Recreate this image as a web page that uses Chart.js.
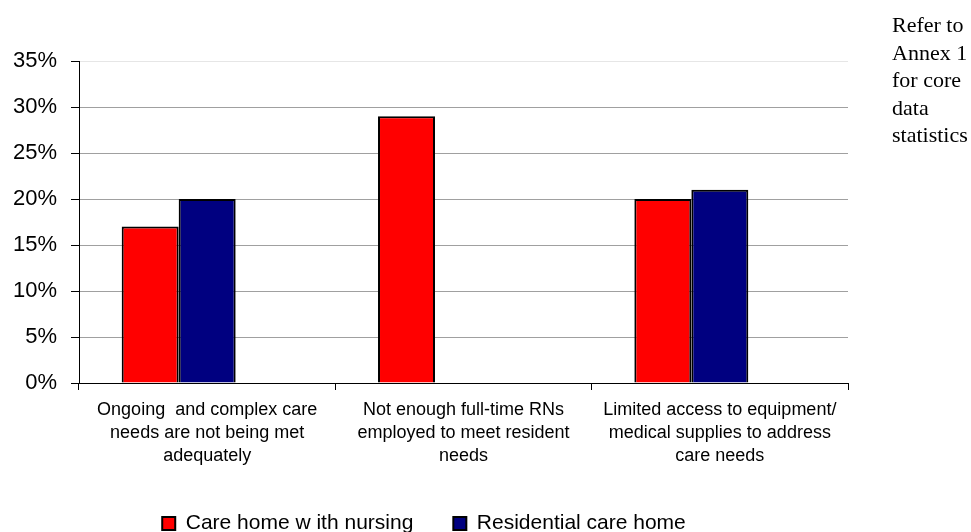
<!DOCTYPE html>
<html>
<head>
<meta charset="utf-8">
<script src="https://cdn.jsdelivr.net/npm/chart.js@4"></script>
<style>
  html, body { margin: 0; padding: 0; background: #fff; overflow: hidden; }
  #wrap { position: relative; width: 971px; height: 532px; overflow: hidden; }
  #chartBox { position: absolute; left: 0; top: 0; width: 971px; height: 544px; }
  #note {
    position: absolute; left: 892px; top: 11px;
    font-family: "Liberation Serif", "Times New Roman", serif;
    font-size: 22px; line-height: 27.5px; color: #000;
  }
</style>
</head>
<body>
<div id="wrap">
  <div id="chartBox"><canvas id="myChart"></canvas></div>
  <div id="note">Refer to<br>Annex 1<br>for core<br>data<br>statistics</div>
</div>
<script>
// categories (multi-line labels, as in the original)
const categories = [
  ["Ongoing  and complex care", "needs are not being met", "adequately"],
  ["Not enough full-time RNs", "employed to meet resident", "needs"],
  ["Limited access to equipment/", "medical supplies to address", "care needs"]
];
// series values (%)
const nursingValues = [17, 29, 20];
const residentialValues = [20, null, 21];
const emptySeries = [null, null, null]; // third series in the source chart has no data
const yTicks = [0, 5, 10, 15, 20, 25, 30, 35];

const PLOT_BOTTOM = 383;
const ctx = document.getElementById('myChart').getContext('2d');

const chartData = {
  labels: categories,
  datasets: [
    {
      label: 'Care home w ith nursing',
      data: nursingValues,
      backgroundColor: '#ff0000',
      borderColor: '#000000',
      borderWidth: 2,
      categoryPercentage: 0.667,
      barPercentage: 1.0
    },
    {
      label: 'Residential care home',
      data: residentialValues,
      backgroundColor: '#000080',
      borderColor: '#000000',
      borderWidth: 2,
      categoryPercentage: 0.667,
      barPercentage: 1.0
    },
    {
      label: '',
      data: emptySeries,
      backgroundColor: '#ffffff',
      borderWidth: 0,
      categoryPercentage: 0.667,
      barPercentage: 1.0
    }
  ]
};

const myChart = new Chart(ctx, {
  type: 'bar',
  data: chartData,
  options: {
    responsive: true,
    maintainAspectRatio: false,
    animation: false,
    layout: {
      padding: { left: 0, right: 123, top: 61, bottom: 0 }
    },
    scales: {
      x: {
        afterFit: function (scale) {
          const lg = scale.chart.legend ? scale.chart.legend.height : 0;
          scale.height = scale.chart.height - PLOT_BOTTOM - lg;
        },
        grid: {
          display: true,
          drawOnChartArea: false,
          offset: true,
          tickLength: 7,
          tickColor: '#000000',
          lineWidth: 1
        },
        border: { display: true, color: '#000000', width: 1 },
        ticks: {
          color: '#000000',
          padding: 8,
          maxRotation: 0,
          autoSkip: false,
          font: { family: '"Liberation Sans", Arial, sans-serif', size: 18, lineHeight: 1.3 }
        }
      },
      y: {
        min: 0,
        max: 35,
        afterFit: function (scale) { scale.width = 79; },
        afterBuildTicks: function (scale) {
          scale.ticks = yTicks.map(v => ({ value: v }));
        },
        grid: {
          color: function (c) { return c.tick && c.tick.value === 35 ? '#e6e6e6' : '#a0a0a0'; },
          lineWidth: 1,
          tickLength: 8,
          tickColor: '#000000'
        },
        border: { display: true, color: '#000000', width: 1 },
        ticks: {
          color: '#000000',
          padding: 14,
          font: { family: '"Liberation Sans", Arial, sans-serif', size: 22 },
          callback: function (value) { return value + '%'; }
        }
      }
    },
    plugins: {
      legend: {
        position: 'bottom',
        align: 'center',
        labels: {
          color: '#000000',
          boxWidth: 13,
          boxHeight: 13,
          padding: 40,
          font: { family: '"Liberation Sans", Arial, sans-serif', size: 21 },
          filter: function (item) { return item.text !== ''; }
        }
      },
      tooltip: { enabled: false }
    }
  }
});
</script>
</body>
</html>
